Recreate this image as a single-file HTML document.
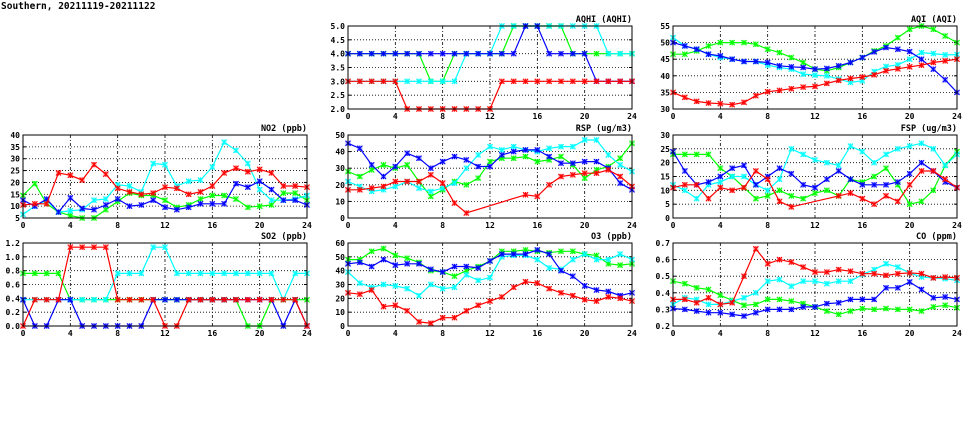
<!DOCTYPE html>
<html><head><meta charset="utf-8">
<style>
html,body{margin:0;padding:0;background:#fff;width:975px;height:447px;overflow:hidden}
svg text{font-family:"DejaVu Sans Mono","Liberation Mono",monospace;font-weight:bold;fill:#000}
</style></head>
<body>
<svg id="chart" width="975" height="447" xmlns="http://www.w3.org/2000/svg">
<text x="1" y="9" font-size="9.5">Southern, 20211119-20211122</text>
</svg>
<script>
const hours = [0,1,2,3,4,5,6,7,8,9,10,11,12,13,14,15,16,17,18,19,20,21,22,23,24];
const xTicks = [0,4,8,12,16,20,24];
const seriesColors = ["#00ff00","#00ffff","#0000ff","#ff0000"];
const seriesNames = ["green","cyan","blue","red"];
const N = null;

const aqhiTicks = [2.0,2.5,3.0,3.5,4.0,4.5,5.0];
const aqhiGreen = [4,4,4,4,4,4,4,3,3,4,4,4,4,4,5,5,5,5,5,4,4,4,4,4,4];
const aqhiCyan = [3,3,3,3,3,3,3,3,3,3,4,4,4,5,5,5,5,5,5,5,5,5,4,4,4];
const aqhiBlue = [4,4,4,4,4,4,4,4,4,4,4,4,4,4,4,5,5,4,4,4,4,3,3,3,3];
const aqhiRed = [3,3,3,3,3,2,2,2,2,2,2,2,2,3,3,3,3,3,3,3,3,3,3,3,3];

const aqiTicks = [30,35,40,45,50,55];
const aqiGreen = [46.5,46.5,47.5,49,50,50,50,49.5,48,47,45.5,44,42,41.5,42.5,44,45.5,47.5,49,51.5,54,55,54,52,50];
const aqiCyan = [51.5,49,48,46.5,45.5,45,44.3,44.3,43.2,42.5,42,40.5,40.2,40,39,38,38.5,41.3,42.8,43.3,45,47,46.7,46.3,46.4];
const aqiBlue = [50,49,48,46.5,46,45,44.3,44.3,44,43,42.7,42.5,42,42.2,43,44,45.5,47.2,48.5,48,47.3,45,42,38.8,35];
const aqiRed = [35,33.5,32.3,31.8,31.6,31.3,32,34,35.2,35.6,36.1,36.6,36.8,37.7,38.6,39.2,39.6,40.3,41.5,42.1,42.7,43.2,44,44.5,45];

const no2Ticks = [5,10,15,20,25,30,35,40];
const no2Green = [14.5,19.5,11,7.5,6,5,5,8.5,12,15.5,14.5,14.5,12.5,9.5,10.5,13,14.5,14.5,13,9.5,10,10.5,15.5,15.5,12.5];
const no2Cyan = [6.5,10,12.5,7.5,8,8.5,12.5,13,19,18.5,16,28,27.5,18.5,20.5,21,26.5,37,33.5,28,17,12.5,12.5,13,14.5];
const no2Blue = [12.5,10,13,7.5,13.5,9,8.5,10.5,13,10,10.5,12.5,9.5,8.5,9.5,11,11,11,19.5,18,20.5,17,12.5,12.5,10.5];
const no2Red = [10.5,11,11,24,23,21,27.5,23.5,17.5,16,15,15.5,18,17.5,15,16,18.5,24,26,24.5,25.5,24,18.5,18.5,18];

const rspTicks = [0,10,20,30,40,50];
const rspGreen = [28,25,29,32,30,32,22,13,17,22,20,24,34,36,36,37,34,35,37,32,24,29,31,36,45];
const rspCyan = [22,19,16,17,19,22,18,16,18,21,30,38,43,41,43,41,40,42,43,43,47,47,38,32,28];
const rspBlue = [45,42,32,25,31,39,36,30,34,37,35,31,31,38,40,41,41,37,33,33,34,34,30,21,17];
const rspRed = [17,17,18,19,22,22,22,26,21,9,3,N,N,N,N,14,13,20,25,26,27,27,29,25,19];

const fspTicks = [0,5,10,15,20,25,30];
const fspGreen = [23,23,23,23,18,15,11,7,8,10,8,7,9,10,8,14,13,15,18,12,5,6,10,19,24];
const fspCyan = [12,10,7,12,13,15,15,12,10,14,25,23,21,20,19,26,24,20,23,25,26,27,25,19,23];
const fspBlue = [24,17,12,13,15,18,19,12,15,18,16,12,11,14,17,14,12,12,12,13,16,20,17,13,11];
const fspRed = [11,12,12,7,11,10,11,17,14,6,4,N,N,N,8,9,7,5,8,6,12,17,17,14,11];

const so2Ticks = [0.0,0.2,0.4,0.6,0.8,1.0,1.2];
const so2Green = [0.76,0.76,0.76,0.76,0.38,0.38,0.38,0.38,0.38,0.38,0.38,0.38,0.38,0.38,0.38,0.38,0.38,0.38,0.38,0,0,0.38,0.38,0.38,0.38];
const so2Cyan = [0.38,0.38,0.38,0.38,0.38,0.38,0.38,0.38,0.76,0.76,0.76,1.14,1.14,0.76,0.76,0.76,0.76,0.76,0.76,0.76,0.76,0.76,0.38,0.76,0.76];
const so2Blue = [0.38,0,0,0.38,0.38,0,0,0,0,0,0,0.38,0.38,0.38,0.38,0.38,0.38,0.38,0.38,0.38,0.38,0.38,0,0.38,0];
const so2Red = [0,0.38,0.38,0.38,1.14,1.14,1.14,1.14,0.38,0.38,0.38,0.38,0,0,0.38,0.38,0.38,0.38,0.38,0.38,0.38,0.38,0.38,0.38,0];

const o3Ticks = [0,10,20,30,40,50,60];
const o3Green = [48,48,54,56,51,49,46,40,39,36,40,43,47,54,54,55,54,53,54,54,52,51,45,44,45];
const o3Cyan = [39,31,28,30,29,27,22,30,27,28,37,33,35,50,51,51,48,42,41,48,52,48,48,52,48];
const o3Blue = [45,46,43,48,44,45,45,41,39,43,43,42,47,52,52,52,55,52,40,36,29,26,25,22,24];
const o3Red = [24,23,26,14,15,11,3,2,6,6,11,15,18,21,28,32,31,27,24,22,19,18,21,20,18];

const coTicks = [0.2,0.3,0.4,0.5,0.6,0.7];
const coGreen = [.47,.455,.43,.42,.385,.355,.325,.33,.36,.36,.35,.335,.315,.29,.27,.29,.305,.3,.305,.3,.3,.29,.315,.325,.31];
const coCyan = [.33,.37,.36,.33,.33,.35,.37,.40,.47,.48,.44,.47,.47,.455,.47,.47,.51,.54,.575,.555,.52,.495,.49,.485,.475];
const coBlue = [.305,.3,.29,.28,.28,.27,.26,.28,.3,.3,.3,.315,.315,.335,.34,.36,.36,.36,.43,.43,.465,.42,.37,.375,.36];
const coRed = [.36,.36,.34,.37,.33,.34,.5,.665,.575,.6,.585,.555,.525,.525,.54,.53,.515,.515,.505,.515,.52,.515,.49,.495,.49];

const NS = "http://www.w3.org/2000/svg";
const svg = document.getElementById("chart");
function mk(tag, attrs, parent){
  const e = document.createElementNS(NS, tag);
  for (const k in attrs) e.setAttribute(k, attrs[k]);
  (parent||svg).appendChild(e);
  return e;
}

function panel(key, title, px, py, ticks, dec, series){
  const W = 284, H = 83;
  const ymin = ticks[0], ymax = ticks[ticks.length-1];
  const xs = v => px + v / 24 * W;
  const ys = v => py + H - (v - ymin) / (ymax - ymin) * H;
  const g = mk("g", {});
  
  
  ticks.forEach((t,i) => {
    if (i === 0 || i === ticks.length-1) return;
    const l = mk("line", {x1:px, x2:px+W, y1:ys(t), y2:ys(t), stroke:"#000", "stroke-width":0.8, "stroke-dasharray":"1,2"}, g);
    
    
  });
  xTicks.forEach((t,i) => {
    if (i === 0 || i === xTicks.length-1) return;
    const l = mk("line", {x1:xs(t), x2:xs(t), y1:py, y2:py+H, stroke:"#000", "stroke-width":0.8, "stroke-dasharray":"3,2,1,2"}, g);
    
    
  });
  ticks.forEach(t => {
    const tx = mk("text", {x:px-3, y:ys(t)+3, "font-size":8, "text-anchor":"end"}, g);
    tx.textContent = t.toFixed(dec);
    
    
    mk("line", {x1:px, x2:px+3, y1:ys(t), y2:ys(t), stroke:"#000"}, g);
    mk("line", {x1:px+W-3, x2:px+W, y1:ys(t), y2:ys(t), stroke:"#000"}, g);
  });
  xTicks.forEach(t => {
    const tx = mk("text", {x:xs(t), y:py+H+10, "font-size":8, "text-anchor":"middle"}, g);
    tx.textContent = t;
    
    
  });
  series.forEach((vals, si) => {
    const col = seriesColors[si];
    const sg = mk("g", {}, g);
    
    
    const pts = [];
    vals.forEach((v,i) => { if (v !== null) pts.push([xs(hours[i]), ys(v)]); });
    const pl = mk("polyline", {points: pts.map(p => p[0].toFixed(1)+","+p[1].toFixed(1)).join(" "), fill:"none", stroke:col, "stroke-width":1.2}, sg);
    
    
    pts.forEach(p => {
      const m = mk("g", {stroke:col, "stroke-width":1}, sg);
      
      
      mk("rect", {x:p[0]-2.6, y:p[1]-2.6, width:5.2, height:5.2, fill:col, "fill-opacity":0.3, stroke:"none"}, m);
      mk("line", {x1:p[0]-2.6, x2:p[0]+2.6, y1:p[1]-2.6, y2:p[1]+2.6}, m);
      mk("line", {x1:p[0]-2.6, x2:p[0]+2.6, y1:p[1]+2.6, y2:p[1]-2.6}, m);
      mk("line", {x1:p[0], x2:p[0], y1:p[1]-2.6, y2:p[1]+2.6}, m);
    });
  });
  const fr = mk("rect", {x:px, y:py, width:W, height:H, fill:"none", stroke:"#000", "stroke-width":1}, g);
  
  
  const ti = mk("text", {x:px+W, y:py-4, "font-size":8.5, "text-anchor":"end"}, g);
  ti.textContent = title;
  
  
}

panel("aqhi","AQHI (AQHI)",348,26,aqhiTicks,1,[aqhiGreen,aqhiCyan,aqhiBlue,aqhiRed]);
panel("aqi","AQI (AQI)",673,26,aqiTicks,0,[aqiGreen,aqiCyan,aqiBlue,aqiRed]);
panel("no2","NO2 (ppb)",23,135,no2Ticks,0,[no2Green,no2Cyan,no2Blue,no2Red]);
panel("rsp","RSP (ug/m3)",348,135,rspTicks,0,[rspGreen,rspCyan,rspBlue,rspRed]);
panel("fsp","FSP (ug/m3)",673,135,fspTicks,0,[fspGreen,fspCyan,fspBlue,fspRed]);
panel("so2","SO2 (ppb)",23,243,so2Ticks,1,[so2Green,so2Cyan,so2Blue,so2Red]);
panel("o3","O3 (ppb)",348,243,o3Ticks,0,[o3Green,o3Cyan,o3Blue,o3Red]);
panel("co","CO (ppm)",673,243,coTicks,1,[coGreen,coCyan,coBlue,coRed]);
</script>
</body></html>
